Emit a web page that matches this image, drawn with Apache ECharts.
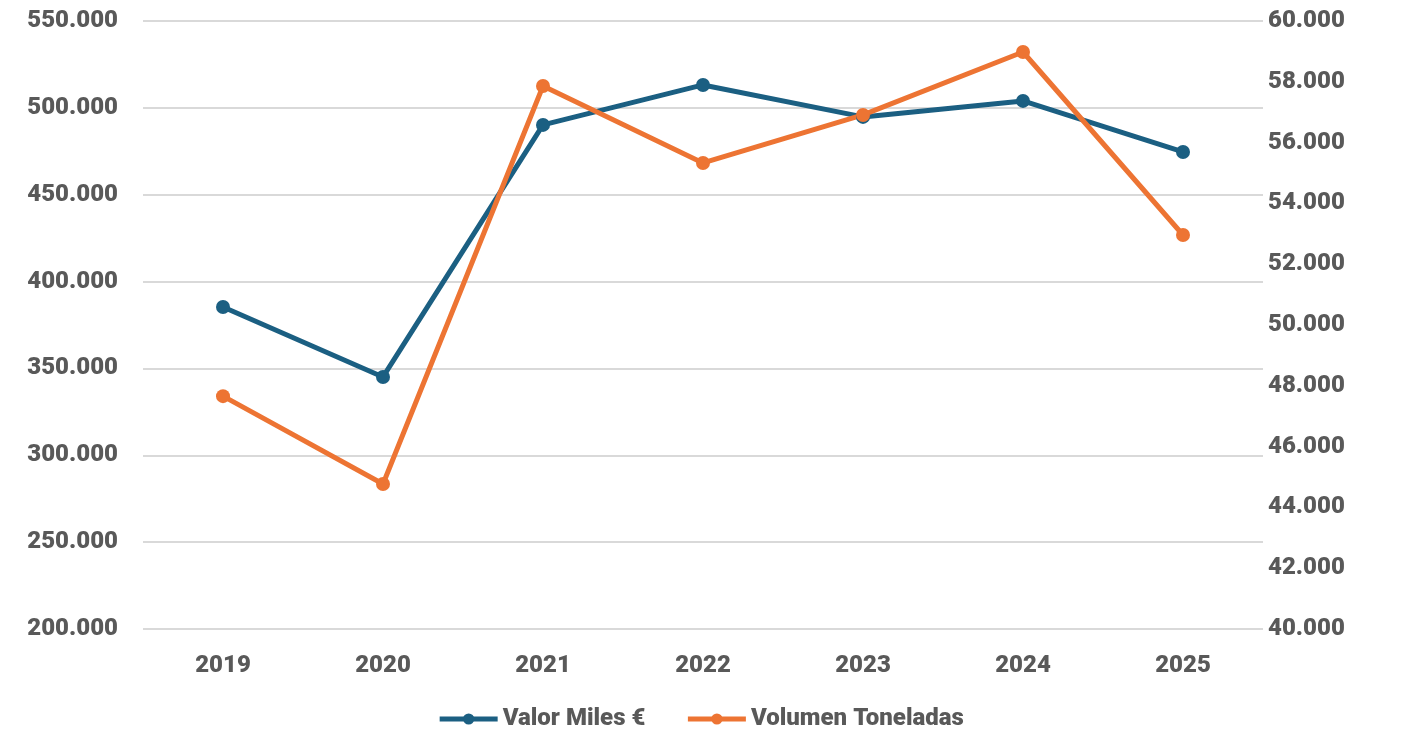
<!DOCTYPE html>
<html lang="es">
<head>
    <meta charset="UTF-8">
    <title>Valor y volumen</title>
    <script src="https://cdn.jsdelivr.net/npm/echarts@6/dist/echarts.min.js"></script>
    <style>
        html, body { margin: 0; padding: 0; background: #fff; }
    </style>
</head>
<body>
<div id="main" style="width: 1401px;height:732px;"></div>
<script type="text/javascript">
    // datos
    var years = ['2019', '2020', '2021', '2022', '2023', '2024', '2025'];
    var valorMiles = [385400, 345100, 490200, 513200, 494800, 504000, 474600];
    var volumenToneladas = [47660, 44770, 57860, 55330, 56910, 58980, 52960];

    var textColor = '#595959';
    var fontFam = 'Roboto, "Liberation Sans", sans-serif';

    function fmt(v) {
        return String(v).replace(/\B(?=(\d{3})+(?!\d))/g, '.');
    }

    var labelStyle = {
        color: textColor,
        fontSize: 24,
        fontWeight: 900,
        fontFamily: fontFam
    };

    var myChart = echarts.init(document.getElementById('main'));
    myChart.setOption({
        animation: false,
        grid: {
            left: 143,
            right: 138,
            top: 21,
            bottom: 103
        },
        legend: {
            bottom: -4,
            left: 'center',
            itemWidth: 58,
            itemHeight: 14,
            itemGap: 40,
            lineStyle: { width: 5 },
            textStyle: labelStyle,
            data: ['Valor Miles €', 'Volumen Toneladas']
        },
        xAxis: {
            type: 'category',
            data: years,
            axisLine: { show: false },
            axisTick: { show: false },
            axisLabel: Object.assign({ margin: 25 }, labelStyle)
        },
        yAxis: [{
            type: 'value',
            min: 200000,
            max: 550000,
            interval: 50000,
            axisLabel: Object.assign({ margin: 25, formatter: fmt }, labelStyle),
            splitLine: { lineStyle: { color: '#d9d9d9', width: 2 } }
        }, {
            type: 'value',
            min: 40000,
            max: 60000,
            interval: 2000,
            position: 'right',
            axisLabel: Object.assign({ margin: 5, formatter: fmt }, labelStyle),
            splitLine: { show: false }
        }],
        series: [{
            name: 'Valor Miles €',
            type: 'line',
            yAxisIndex: 0,
            data: valorMiles,
            symbol: 'circle',
            symbolSize: 14,
            color: '#1b5f82',
            lineStyle: { width: 5 }
        }, {
            name: 'Volumen Toneladas',
            type: 'line',
            yAxisIndex: 1,
            data: volumenToneladas,
            symbol: 'circle',
            symbolSize: 14,
            color: '#ed7433',
            lineStyle: { width: 5 }
        }]
    });
</script>
</body>
</html>
